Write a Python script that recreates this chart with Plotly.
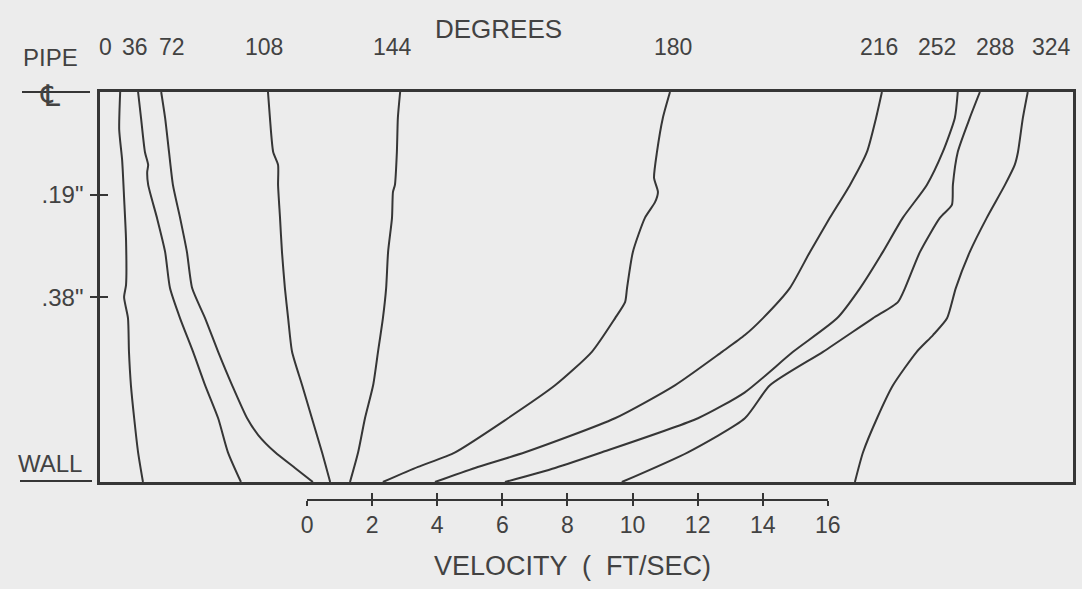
import plotly.graph_objects as go

# ---- data ----
angles = ["0", "36", "72", "108", "144", "180", "216", "252", "288", "324"]

# depth below pipe centreline (inches) and velocity (ft/sec) for each phase angle
depth_0 = [0, 0.070, 0.126, 0.196, 0.274, 0.357, 0.380, 0.419, 0.481, 0.543, 0.604, 0.667, 0.722]
vel_0 = [-5.74, -5.77, -5.68, -5.62, -5.56, -5.56, -5.62, -5.50, -5.47, -5.41, -5.31, -5.19, -5.04]

depth_36 = [0, 0.048, 0.111, 0.135, 0.148, 0.172, 0.233, 0.296, 0.363, 0.419, 0.481, 0.543, 0.604, 0.667, 0.722]
vel_36 = [-5.19, -5.10, -4.98, -4.88, -4.91, -4.88, -4.61, -4.36, -4.21, -3.90, -3.50, -3.13, -2.73, -2.43, -2.03]

depth_72 = [0, 0.048, 0.111, 0.172, 0.233, 0.296, 0.363, 0.419, 0.481, 0.543, 0.604, 0.635, 0.667, 0.696, 0.722]
vel_72 = [-4.48, -4.36, -4.24, -4.12, -3.90, -3.69, -3.53, -3.13, -2.73, -2.30, -1.84, -1.50, -0.98, -0.37, 0.18]

depth_108 = [0, 0.048, 0.111, 0.135, 0.172, 0.233, 0.296, 0.363, 0.419, 0.481, 0.543, 0.604, 0.667, 0.722]
vel_108 = [-1.20, -1.14, -1.04, -0.89, -0.89, -0.83, -0.77, -0.68, -0.58, -0.46, -0.15, 0.15, 0.46, 0.71]

depth_144 = [0, 0.048, 0.111, 0.172, 0.185, 0.233, 0.296, 0.363, 0.419, 0.481, 0.543, 0.604, 0.667, 0.722]
vel_144 = [2.86, 2.79, 2.76, 2.70, 2.64, 2.61, 2.49, 2.43, 2.33, 2.18, 2.03, 1.78, 1.57, 1.32]

depth_180 = [0, 0.048, 0.111, 0.159, 0.185, 0.204, 0.233, 0.296, 0.363, 0.389, 0.419, 0.481, 0.543, 0.604, 0.667, 0.694, 0.722]
vel_180 = [11.15, 10.93, 10.75, 10.66, 10.78, 10.69, 10.38, 10.01, 9.83, 9.77, 9.46, 8.75, 7.62, 6.17, 4.55, 3.41, 2.33]

depth_216 = [0, 0.048, 0.111, 0.172, 0.233, 0.296, 0.363, 0.419, 0.450, 0.481, 0.543, 0.604, 0.667, 0.696, 0.722]
vel_216 = [17.66, 17.48, 17.20, 16.68, 16.06, 15.45, 14.83, 14.00, 13.45, 12.75, 11.30, 9.46, 6.70, 5.16, 3.93]

depth_252 = [0, 0.048, 0.111, 0.172, 0.233, 0.296, 0.363, 0.419, 0.481, 0.556, 0.604, 0.667, 0.696, 0.722]
vel_252 = [19.99, 19.90, 19.53, 19.04, 18.30, 17.69, 16.99, 16.28, 14.93, 13.45, 12.01, 9.06, 7.62, 6.08]

depth_288 = [0, 0.048, 0.111, 0.172, 0.209, 0.233, 0.296, 0.363, 0.389, 0.419, 0.481, 0.543, 0.604, 0.667, 0.722]
vel_288 = [20.67, 20.36, 19.99, 19.84, 19.81, 19.44, 18.83, 18.37, 18.15, 17.38, 15.85, 14.22, 13.45, 11.70, 9.67]

depth_324 = [0, 0.048, 0.111, 0.135, 0.172, 0.233, 0.296, 0.363, 0.419, 0.450, 0.481, 0.543, 0.604, 0.667, 0.722]
vel_324 = [22.14, 21.99, 21.84, 21.74, 21.44, 20.88, 20.36, 19.93, 19.66, 19.23, 18.73, 18.00, 17.51, 17.08, 16.83]

depths = [depth_0, depth_36, depth_72, depth_108, depth_144, depth_180, depth_216, depth_252, depth_288, depth_324]
vels = [vel_0, vel_36, vel_72, vel_108, vel_144, vel_180, vel_216, vel_252, vel_288, vel_324]

# tick labels
depth_ticks = [0.19, 0.38]
depth_ticktext = ['.19"', '.38"']
vel_ticks = [0, 2, 4, 6, 8, 10, 12, 14, 16]
vel_ticktext = ["0", "2", "4", "6", "8", "10", "12", "14", "16"]

# ---- layout constants ----
WALL = 0.722
X_LO, X_HI = -6.36, 23.53
LABEL_X = [-6.20, -5.28, -4.15, -1.32, 2.64, 11.24, 17.57, 19.35, 21.13, 22.88]

INK = "#363636"
TXT = "#424242"
BG = "#ececec"
CLEAR = "rgba(0,0,0,0)"
FONT = "Liberation Sans"

fig = go.Figure()
for a, d, v in zip(angles, depths, vels):
    fig.add_trace(go.Scatter(
        x=v, y=d, mode="lines", name=a, showlegend=False,
        line=dict(color=INK, width=2, shape="spline", smoothing=0.6),
        hoverinfo="skip"))

# helper traces so that the extra axes are drawn
fig.add_trace(go.Scatter(x=[None], y=[None], xaxis="x2", yaxis="y", showlegend=False))
fig.add_trace(go.Scatter(x=[None], y=[None], xaxis="x3", yaxis="y", showlegend=False))
fig.add_trace(go.Scatter(x=[None], y=[None], xaxis="x", yaxis="y2", showlegend=False))

plot_top, plot_bot = 92, 540
ph = plot_bot - plot_top
y_dom0 = (plot_bot - 482) / ph
vel_pos = (plot_bot - 500) / ph
span = X_HI - X_LO
x2_dom = [(0 - X_LO) / span, (16 - X_LO) / span]

fig.update_layout(
    template="none",
    width=1082, height=589, autosize=False,
    margin=dict(l=100, r=9, t=plot_top, b=589 - plot_bot, pad=0, autoexpand=False),
    paper_bgcolor=BG, plot_bgcolor=CLEAR,
    font=dict(family=FONT, color=TXT),
    xaxis=dict(range=[X_LO, X_HI], domain=[0, 1], anchor="y", automargin=False,
               showline=True, mirror=True, linecolor=INK, linewidth=2.5,
               showgrid=False, zeroline=False, showticklabels=False, ticks=""),
    yaxis=dict(range=[WALL, 0], domain=[y_dom0, 1], anchor="x", automargin=False,
               showline=True, mirror=True, linecolor=INK, linewidth=2.5,
               showgrid=False, zeroline=False,
               tickvals=depth_ticks, ticktext=depth_ticktext,
               ticks="outside", ticklen=7, tickwidth=1.5, tickcolor=INK,
               ticklabelstandoff=2,
               tickfont=dict(size=24, family=FONT, color=TXT)),
    yaxis2=dict(range=[WALL, 0], overlaying="y", anchor="x", side="left", automargin=False,
                showline=False, showgrid=False, zeroline=False,
                tickvals=depth_ticks, showticklabels=False,
                ticks="inside", ticklen=8, tickwidth=1.5, tickcolor=INK),
    xaxis2=dict(range=[0, 16], domain=x2_dom, anchor="free", position=vel_pos, automargin=False,
                showline=True, linecolor=INK, linewidth=1.5,
                showgrid=False, zeroline=False,
                tickvals=vel_ticks, ticktext=vel_ticktext,
                ticks="outside", ticklen=5, tickwidth=1.5, tickcolor=INK,
                tickfont=dict(size=23, family=FONT, color=TXT)),
    xaxis3=dict(range=[0, 16], overlaying="x2", anchor="free", position=vel_pos, automargin=False,
                showline=False, showgrid=False, zeroline=False,
                tickvals=vel_ticks, showticklabels=False,
                ticks="inside", ticklen=7, tickwidth=1.5, tickcolor=INK),
)

def py(px):
    return 1 - (px - plot_top) / ph

def px_x(px):
    return (px - 100) / 973

def label(x, y, text, size, xref="paper", family=FONT):
    return dict(x=x, y=y, xref=xref, yref="paper", text=text, showarrow=False,
                xanchor="center", yanchor="middle",
                font=dict(size=size, family=family, color=TXT))

ann = [label(lx, py(47), a, 23, xref="x") for a, lx in zip(angles, LABEL_X)]
ann.append(label(px_x(498), py(29), "DEGREES", 26))
ann.append(label(px_x(50), py(58), "PIPE", 24))
ann.append(label(px_x(50), py(95), "\u2104", 30, family="DejaVu Sans"))
ann.append(label(px_x(50), py(463), "WALL", 24))
ann.append(label(px_x(572), py(566), "VELOCITY  (  FT/SEC)", 27))
fig.update_layout(annotations=ann)

fig.add_shape(type="line", xref="paper", yref="paper", x0=px_x(22), x1=px_x(90), y0=py(92), y1=py(92),
              line=dict(color=INK, width=2))
fig.add_shape(type="line", xref="paper", yref="paper", x0=px_x(20), x1=px_x(92), y0=py(481), y1=py(481),
              line=dict(color=INK, width=2))

fig.write_html("out.html", config={"displayModeBar": False},
               post_script="document.body.style.margin='0';")
